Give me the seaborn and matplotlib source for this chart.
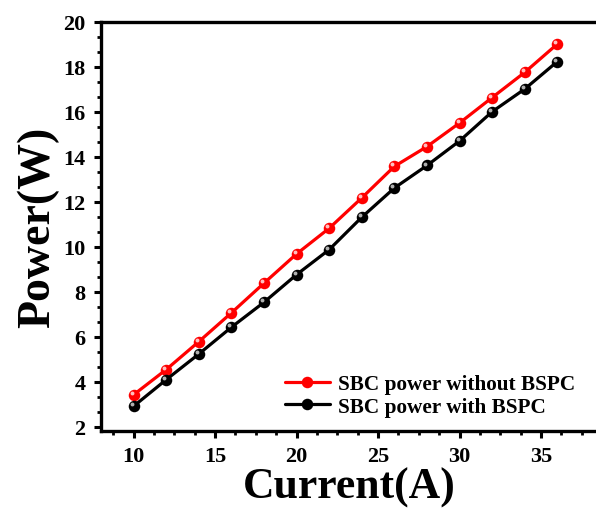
import pandas as pd
import numpy as np
import matplotlib
matplotlib.use("Agg")
import matplotlib.pyplot as plt
import matplotlib.transforms as mtransforms
from matplotlib.ticker import MultipleLocator
import seaborn as sns

# data
current = [10, 12, 14, 16, 18, 20, 22, 24, 26, 28, 30, 32, 34, 36]
power_without = [3.43, 4.55, 5.79, 7.07, 8.39, 9.69, 10.83, 12.18, 13.58, 14.46, 15.51, 16.64, 17.76, 19.02]
power_with = [2.92, 4.10, 5.24, 6.43, 7.54, 8.77, 9.88, 11.32, 12.62, 13.62, 14.71, 16.01, 17.02, 18.24]
series_names = ["SBC power without BSPC", "SBC power with BSPC"]
series_colors = ["#ff0000", "#000000"]
glint_colors = ["#ffc0c0", "#b0b0b0"]

df = pd.DataFrame({
    "Current": current * 2,
    "Power": power_without + power_with,
    "Series": [series_names[0]] * len(current) + [series_names[1]] * len(current),
})

sns.set_style("ticks")
plt.rcParams["font.family"] = ["Liberation Serif", "DejaVu Serif"]
plt.rcParams["font.weight"] = "bold"
plt.rcParams["text.color"] = "black"
plt.rcParams["axes.labelcolor"] = "black"
plt.rcParams["xtick.color"] = "black"
plt.rcParams["ytick.color"] = "black"

fig = plt.figure(figsize=(5.96, 5.10), dpi=100)
ax = fig.add_axes([0.1695, 0.153, 0.834, 0.802])

sns.lineplot(data=df, x="Current", y="Power", hue="Series", hue_order=series_names,
             palette=series_colors, marker="o", markersize=8.3, markeredgewidth=0,
             linewidth=2.3, ax=ax)

# little glint on each ball marker
shift = mtransforms.ScaledTranslation(-1.4 / 72, 1.4 / 72, fig.dpi_scale_trans)
for vals, gc in zip([power_without, power_with], glint_colors):
    ax.plot(current, vals, linestyle="none", marker="o", markersize=2.8,
            markeredgewidth=0, color=gc, transform=ax.transData + shift)

ax.set_xlim(8, 38.5)
ax.set_ylim(1.82, 20)
ax.xaxis.set_major_locator(MultipleLocator(5))
ax.xaxis.set_minor_locator(MultipleLocator(1.25))
ax.yaxis.set_major_locator(MultipleLocator(2))
ax.yaxis.set_minor_locator(MultipleLocator(2 / 3))

for side in ["left", "bottom", "top"]:
    ax.spines[side].set_linewidth(2.4)
    ax.spines[side].set_color("black")
ax.spines["right"].set_visible(False)
ax.tick_params(which="major", direction="out", length=5, width=2.2, labelsize=16,
               colors="black", pad=6)
ax.tick_params(which="minor", direction="out", length=3, width=2.0, colors="black")
ax.tick_params(top=False, right=False, which="both")
for lab in ax.get_xticklabels() + ax.get_yticklabels():
    lab.set_fontweight("bold")
    lab.set_color("black")

ax.set_xlabel("Current(A)", fontsize=31.5, fontweight="bold", labelpad=0, color="black")
ax.set_ylabel("Power(W)", fontsize=33, fontweight="bold", labelpad=3, color="black")

leg = ax.legend(loc="lower left", bbox_to_anchor=(0.37, 0.035), frameon=False,
                handlelength=2.1, handletextpad=0.4, labelspacing=0.12,
                borderpad=0, borderaxespad=0,
                prop={"family": "Liberation Serif", "weight": "bold", "size": 15.3})
for t in leg.get_texts():
    t.set_color("black")

fig.savefig("out.png", dpi=100)
